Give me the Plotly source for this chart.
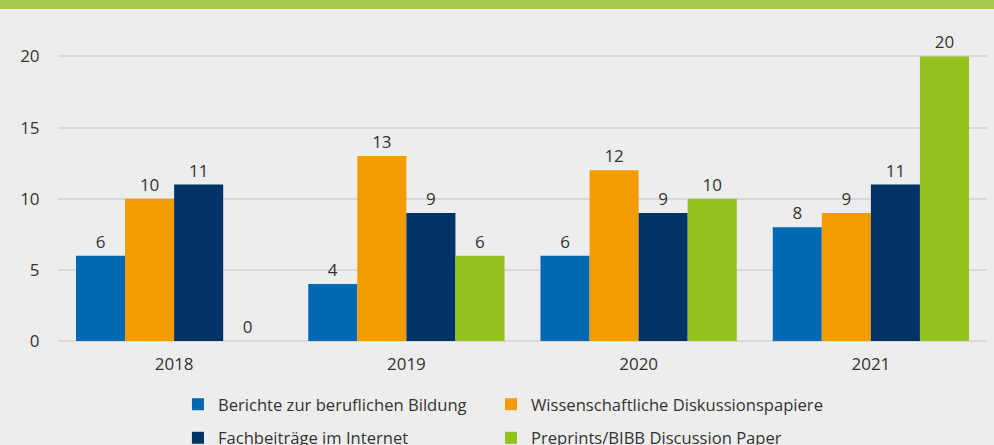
import plotly.graph_objects as go

years = ["2018", "2019", "2020", "2021"]
series_names = [
    "Berichte zur beruflichen Bildung",
    "Wissenschaftliche Diskussionspapiere",
    "Fachbeiträge im Internet",
    "Preprints/BIBB Discussion Paper",
]
berichte = [6, 4, 6, 8]
diskussionspapiere = [10, 13, 12, 9]
fachbeitraege = [11, 9, 9, 11]
preprints = [0, 6, 10, 20]

colors = ["#0069b4", "#f39c00", "#003366", "#95c11f"]
values = [berichte, diskussionspapiere, fachbeitraege, preprints]
# left legend column / right legend column
legend_ids = ["legend", "legend2", "legend", "legend2"]

fig = go.Figure()
for name, vals, col, lg in zip(series_names, values, colors, legend_ids):
    fig.add_trace(go.Bar(
        x=years, y=vals, name=name,
        marker=dict(color=col, line=dict(width=0)),
        text=vals, textposition="outside", cliponaxis=False,
        textfont=dict(size=17, color="#333333"),
        legend=lg, legendgroup=name,
    ))

# green band at the top
fig.add_shape(type="rect", xref="paper", yref="paper",
              x0=-0.1, x1=1.1, y0=1.0606, y1=1.2,
              fillcolor="#a9c84e", line=dict(width=0), layer="above")

fig.update_xaxes(
    showgrid=False, showline=False, zeroline=False, automargin=False,
    ticks="outside", ticklen=8, tickcolor="rgba(0,0,0,0)", tickangle=0,
    tickfont=dict(size=17, color="#333333"),
)
fig.update_yaxes(
    range=[0, 22], tickvals=[0, 5, 10, 15, 20], automargin=False,
    showgrid=True, gridcolor="#d8d8d8", gridwidth=1.5,
    zeroline=True, zerolinecolor="#d8d8d8", zerolinewidth=1.5,
    ticks="outside", ticklen=14, tickcolor="rgba(0,0,0,0)",
    tickfont=dict(size=17, color="#333333"),
)

leg_common = dict(
    orientation="v", xanchor="left", yanchor="top", y=-0.1467,
    font=dict(size=16.6, color="#333333"),
    bgcolor="rgba(0,0,0,0)", tracegroupgap=9,
)

fig.update_layout(
    width=994, height=445,
    barmode="group", bargap=0.155, bargroupgap=0,
    paper_bgcolor="#ededed", plot_bgcolor="#ededed",
    font=dict(family="Open Sans", size=17, color="#333333"),
    margin=dict(l=58, r=7, t=27.5, b=103.5, autoexpand=False),
    uniformtext=dict(minsize=17, mode="show"),
    showlegend=True,
    legend=dict(x=0.1291, **leg_common),
    legend2=dict(x=0.4661, **leg_common),
)

fig.write_html("out.html", config={"displayModeBar": False},
               post_script="document.body.style.margin='0';")
